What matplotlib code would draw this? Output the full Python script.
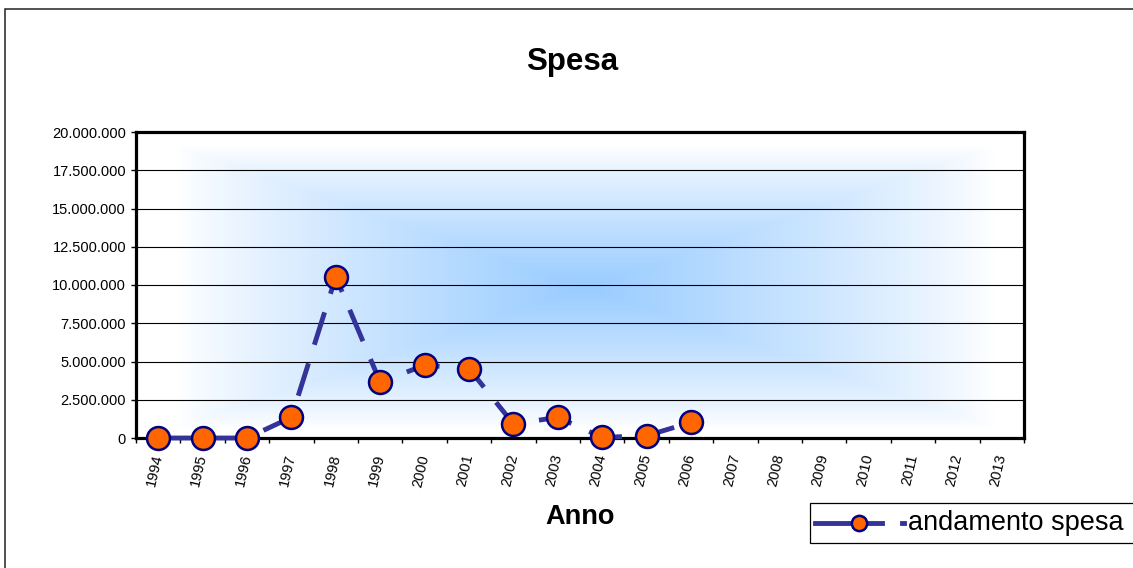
import numpy as np
import matplotlib
matplotlib.use("Agg")
import matplotlib.pyplot as plt
from matplotlib.ticker import FixedLocator, FuncFormatter
from matplotlib.patches import Rectangle
from matplotlib.lines import Line2D

plt.rcParams['font.family'] = ['Liberation Sans', 'DejaVu Sans']

# ---- data ----
anni = ['1994', '1995', '1996', '1997', '1998', '1999', '2000', '2001', '2002',
        '2003', '2004', '2005', '2006', '2007', '2008', '2009', '2010', '2011',
        '2012', '2013']
spesa = [0, 0, 0, 1350000, 10530000, 3650000, 4760000, 4540000, 920000,
         1350000, 40000, 150000, 1020000]
y_ticks = [0, 2500000, 5000000, 7500000, 10000000, 12500000, 15000000,
           17500000, 20000000]
titolo = 'Spesa'
asse_x = 'Anno'
serie = 'andamento spesa'

W, H = 1133, 568
fig = plt.figure(figsize=(W / 100, H / 100), dpi=100)

def fx(px):
    return px / W

def fy(py):
    return 1 - py / H

# outer chart border (extends beyond right/bottom edges)
fig.patches.append(Rectangle((fx(4.5), fy(580)), fx(1150), fy(8.5) - fy(580),
                             transform=fig.transFigure, fill=False,
                             edgecolor='#222222', linewidth=1.1))

ax = fig.add_axes([fx(136), fy(438), fx(1024) - fx(136), fy(132) - fy(438)])

# gradient background (rectangular, from center)
ny, nx = 306, 888
xs = (np.arange(nx) + 0.5) / nx
ys = (np.arange(ny) + 0.5) / ny
X, Y = np.meshgrid(xs, ys)
cx, cy = 0.506, 0.507  # image rows go top->bottom
t = np.maximum(np.abs(X - cx) / 0.5, np.abs(Y - cy) / 0.5)
f = np.clip(1 - t / 0.92, 0, 1) ** 0.85
blue = np.array([0.60, 0.80, 1.0])
img = 1 - f[..., None] * (1 - blue[None, None, :])
n = len(anni)
ax.imshow(img, extent=[-0.5, n - 0.5, y_ticks[0], y_ticks[-1]],
          aspect='auto', zorder=0, origin='upper', interpolation='bilinear')

x = np.arange(len(spesa))
ax.plot(x, spesa, color='#333399', linewidth=3.5, linestyle=(0, (7, 4)),
        marker='o', markersize=16.5, markerfacecolor='#FF6600',
        markeredgecolor='#000080', markeredgewidth=1.8, clip_on=False,
        zorder=3)

ax.set_xlim(-0.5, n - 0.5)
ax.set_ylim(y_ticks[0], y_ticks[-1])
ax.set_axisbelow(True)

ax.yaxis.set_major_locator(FixedLocator(y_ticks))
ax.yaxis.set_major_formatter(FuncFormatter(lambda v, p: f"{int(round(v)):,}".replace(",", ".")))
ax.yaxis.grid(True, color='#000000', linewidth=0.8)
ax.tick_params(axis='y', which='major', direction='out', length=3.6, width=1,
               pad=3.6, labelsize=10.5, colors='black')

ax.set_xticks(np.arange(n))
ax.set_xticklabels(anni)
ax.xaxis.set_minor_locator(FixedLocator(np.arange(n + 1) - 0.5))
ax.tick_params(axis='x', which='major', length=0, pad=12, labelsize=10.5)
ax.tick_params(axis='x', which='minor', direction='out', length=3.6, width=1)
for lab in ax.get_xticklabels():
    lab.set_rotation(77)
    lab.set_ha('right')
    lab.set_va('center')
    lab.set_rotation_mode('anchor')

for s in ax.spines.values():
    s.set_linewidth(2.3)
    s.set_color('black')

fig.text(fx(572), fy(62), titolo, fontsize=22.5, fontweight='bold',
         ha='center', va='center')
fig.text(fx(580), fy(517), asse_x, fontsize=19.5, fontweight='bold',
         ha='center', va='center')

# legend (manually placed, box runs off the right edge)
fig.patches.append(Rectangle((fx(809.5), fy(543)), fx(1150) - fx(809.5),
                             fy(503) - fy(543), transform=fig.transFigure,
                             fill=True, facecolor='white',
                             edgecolor='black', linewidth=0.9, zorder=5))
fig.lines.append(Line2D([fx(815), fx(882)], [fy(523), fy(523)],
                        transform=fig.transFigure, color='#333399',
                        linewidth=3.5, zorder=6))
fig.lines.append(Line2D([fx(902), fx(904)], [fy(523), fy(523)],
                        transform=fig.transFigure, color='#333399',
                        linewidth=3.5, zorder=6))
fig.lines.append(Line2D([fx(859)], [fy(523)], transform=fig.transFigure,
                        marker='o', markersize=11, markerfacecolor='#FF6600',
                        markeredgecolor='#000080', markeredgewidth=1.8,
                        linestyle='none', zorder=7))
fig.text(fx(908), fy(523), serie, fontsize=19.5, ha='left', va='center',
         zorder=8)

fig.savefig('out.png', dpi=100)
